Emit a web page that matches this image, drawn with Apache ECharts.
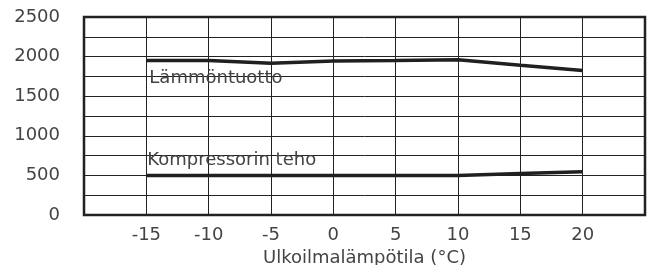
<!DOCTYPE html>
<html>
<head>
<meta charset="utf-8">
<script src="https://cdn.jsdelivr.net/npm/echarts@6/dist/echarts.min.js"></script>
<style>
  html, body { margin: 0; padding: 0; background: #fff; }
  #chart { width: 650px; height: 265px; }
</style>
</head>
<body>
<div id="chart"></div>
<script>
  // ulkolämpötila (°C)
  var temps = [-15, -10, -5, 0, 5, 10, 15, 20];
  // teho (W)
  var heatOutput = [1950, 1950, 1915, 1945, 1950, 1960, 1890, 1825];
  var compressorPower = [500, 500, 500, 500, 500, 500, 525, 545];
  var seriesNames = ['Lämmöntuotto', 'Kompressorin teho'];
  var xTickLabels = ['-15', '-10', '-5', '0', '5', '10', '15', '20'];
  var yTickLabels = ['0', '500', '1000', '1500', '2000', '2500'];

  var lineColor = '#231f20';
  var textColor = '#444';
  var font = 'DejaVu Sans';

  function pairs(vals) {
    return temps.map(function (t, i) { return [t, vals[i]]; });
  }

  var chart = echarts.init(document.getElementById('chart'));
  var option = {
    animation: false,
    grid: {
      left: 84, right: 5, top: 17, bottom: 50,
      outerBoundsMode: 'none',
      containLabel: false,
      show: true,
      borderColor: lineColor,
      borderWidth: 2.5
    },
    xAxis: {
      type: 'value',
      min: -20, max: 25, interval: 5,
      name: 'Ulkoilmalämpötila (°C)',
      nameLocation: 'middle',
      nameGap: 27,
      nameTextStyle: { fontFamily: font, fontSize: 18, color: textColor },
      axisLine: { show: false },
      axisTick: { show: false },
      axisLabel: {
        margin: 11,
        fontFamily: font, fontSize: 18, color: textColor,
        formatter: function (v) {
          var s = String(v);
          return xTickLabels.indexOf(s) >= 0 ? s : '';
        }
      },
      splitLine: { show: true, lineStyle: { color: '#222', width: 1 } }
    },
    yAxis: {
      type: 'value',
      min: 0, max: 2500, interval: 250,
      axisLine: { show: false },
      axisTick: { show: false },
      axisLabel: {
        margin: 24,
        fontFamily: font, fontSize: 18, color: textColor,
        formatter: function (v) {
          var s = String(v);
          return yTickLabels.indexOf(s) >= 0 ? s : '';
        }
      },
      splitLine: { show: true, lineStyle: { color: '#222', width: 1 } }
    },
    series: [
      {
        name: seriesNames[0],
        type: 'line',
        data: pairs(heatOutput),
        showSymbol: false,
        lineStyle: { color: lineColor, width: 3.5 },
        markPoint: {
          symbol: 'circle', symbolSize: 0,
          data: [{ coord: [temps[0], heatOutput[0]] }],
          label: {
            show: true,
            formatter: seriesNames[0],
            position: 'right',
            offset: [-2, 18],
            fontFamily: font, fontSize: 18, color: textColor
          }
        }
      },
      {
        name: seriesNames[1],
        type: 'line',
        data: pairs(compressorPower),
        showSymbol: false,
        lineStyle: { color: lineColor, width: 3.5 },
        markPoint: {
          symbol: 'circle', symbolSize: 0,
          data: [{ coord: [temps[0], compressorPower[0]] }],
          label: {
            show: true,
            formatter: seriesNames[1],
            position: 'right',
            offset: [-4, -15],
            fontFamily: font, fontSize: 18, color: textColor
          }
        }
      }
    ]
  };
  chart.setOption(option);
</script>
</body>
</html>
